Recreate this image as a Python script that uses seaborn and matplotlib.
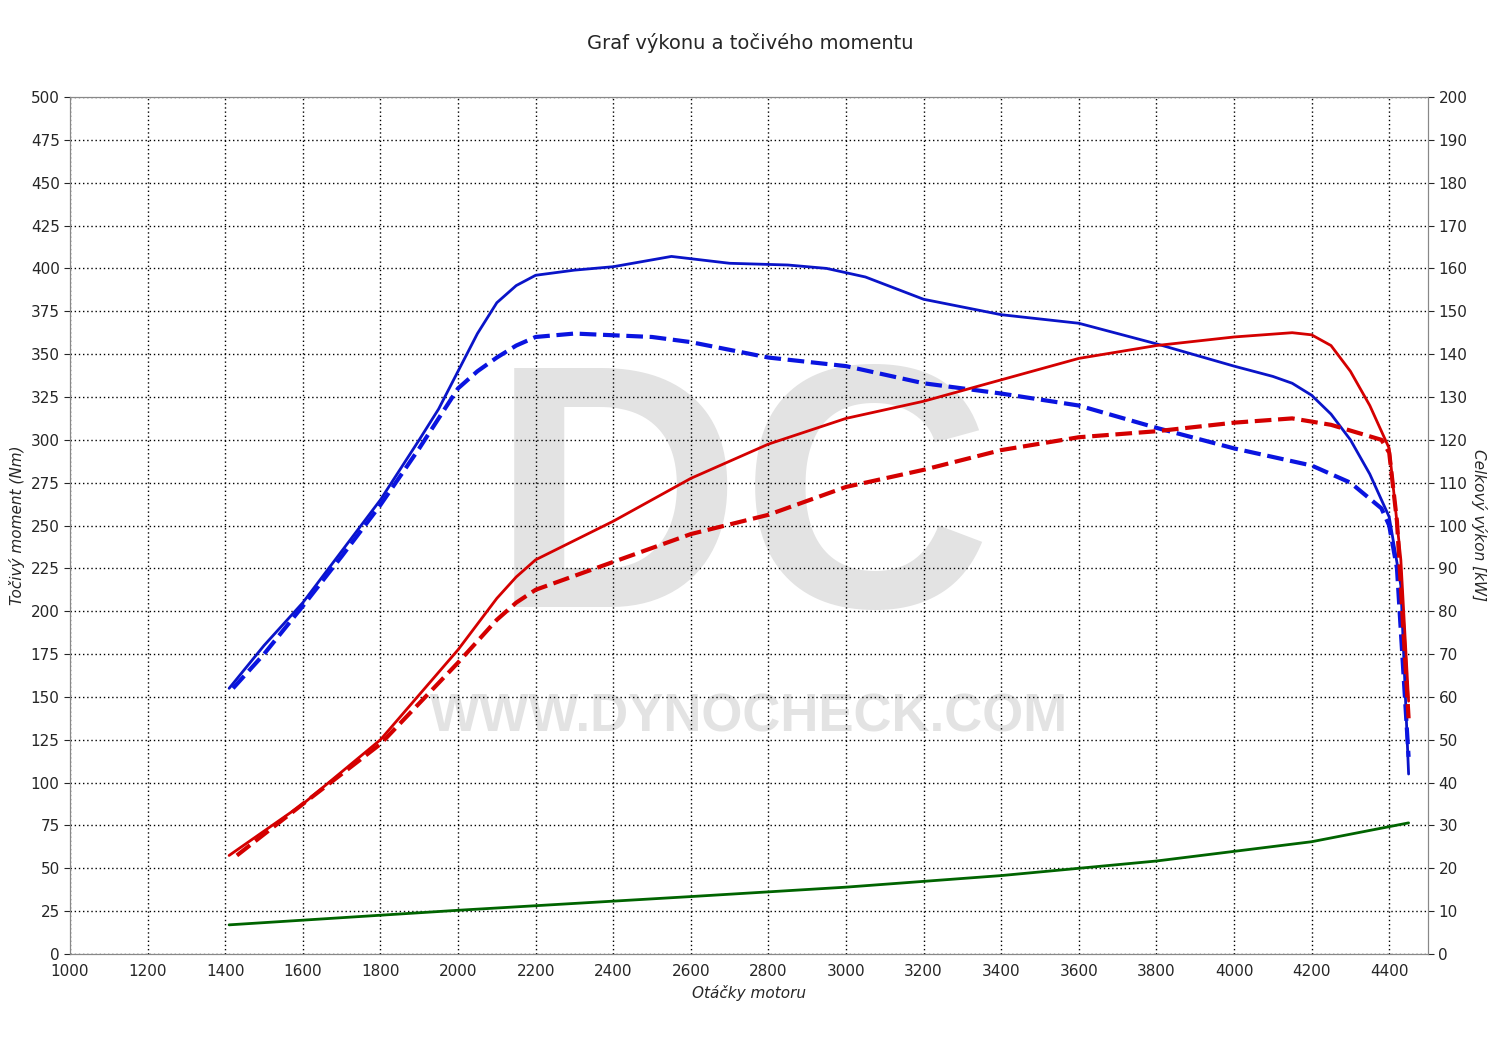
import pandas as pd
import matplotlib
matplotlib.use("Agg")
import matplotlib.pyplot as plt
import seaborn as sns

# torque, tuned (solid) and stock (dashed), Nm
tq_rpm = [1410, 1500, 1600, 1700, 1800, 1900, 1950, 2000, 2050, 2100, 2150, 2200, 2300, 2400, 2550,
          2700, 2850, 2950, 3050, 3200, 3400, 3600, 3800, 4000, 4100, 4150, 4200, 4250, 4300,
          4350, 4400, 4430, 4450]
tq_tuned = [155, 180, 205, 235, 265, 300, 318, 340, 362, 380, 390, 396, 399, 401, 407,
            403, 402, 400, 395, 382, 373, 368, 356, 343, 337, 333, 326, 315, 300,
            280, 255, 215, 105]
tqs_rpm = [1420, 1500, 1600, 1700, 1800, 1900, 2000, 2050, 2100, 2150, 2200, 2300, 2500, 2600,
           2800, 3000, 3200, 3400, 3600, 3800, 4000, 4200, 4300, 4380, 4400, 4420, 4450]
tq_stock = [155, 175, 203, 232, 262, 295, 330, 340, 348, 355, 360, 362, 360, 357,
            348, 343, 333, 327, 320, 307, 295, 285, 275, 260, 250, 225, 115]
# power, tuned and stock, kW
pw_rpm = [1410, 1600, 1800, 2000, 2050, 2100, 2150, 2200, 2400, 2600, 2800, 3000, 3200, 3400,
          3600, 3800, 4000, 4150, 4200, 4250, 4300, 4350, 4400, 4430, 4450]
pw_tuned = [23, 35, 50, 71, 77, 83, 88, 92, 101, 111, 119, 125, 129, 134,
            139, 142, 144, 145, 144.5, 142, 136, 128, 118, 92, 59]
pws_rpm = [1430, 1600, 1800, 2000, 2100, 2150, 2200, 2400, 2600, 2800, 3000, 3200, 3400, 3600,
           3800, 4000, 4150, 4250, 4380, 4400, 4420, 4450]
pw_stock = [23, 35, 49, 68, 78, 82, 85, 91.5, 98, 102.5, 109, 113, 117.6, 120.6,
            122, 124, 125, 123.5, 120, 117, 101, 55]
# losses, kW
loss_rpm = [1410, 2000, 2600, 3000, 3400, 3800, 4200, 4450]
loss_kw = [6.8, 10.2, 13.4, 15.6, 18.3, 21.7, 26.2, 30.6]

x_ticks = list(range(1000, 4401, 200))
y_ticks = list(range(0, 501, 25))
y2_ticks = list(range(0, 201, 10))

plt.rcParams["font.family"] = "Open Sans"
sns.set_style("white")
fig = plt.figure(figsize=(15, 10.4), dpi=100)
ax = fig.add_axes([0.0467, 0.0827, 0.9053, 0.824])
ax2 = ax.twinx()

# watermark
ax.text(2730, 255, "DC", fontsize=250, fontweight="bold", color="#e3e3e3",
        ha="center", va="center", zorder=0, fontfamily="Liberation Sans")
ax.text(2750, 138, "WWW.DYNOCHECK.COM", fontsize=38, fontweight="bold", color="#e3e3e3",
        ha="center", va="center", zorder=0, fontfamily="Liberation Sans")

sns.lineplot(x=tq_rpm, y=tq_tuned, ax=ax, color="#0a14c8", lw=2, sort=False)
sns.lineplot(x=tqs_rpm, y=tq_stock, ax=ax, color="#0a14e0", lw=3, ls=(0, (4, 1.6)), sort=False)
sns.lineplot(x=pw_rpm, y=pw_tuned, ax=ax2, color="#d40000", lw=2, sort=False)
sns.lineplot(x=pws_rpm, y=pw_stock, ax=ax2, color="#d40000", lw=3, ls=(0, (4, 1.6)), sort=False)
sns.lineplot(x=loss_rpm, y=loss_kw, ax=ax2, color="#006400", lw=2, sort=False)

ax.set_xlim(1000, 4500)
ax.set_ylim(0, 500)
ax2.set_ylim(0, 200)
ax.set_xticks(x_ticks)
ax.set_yticks(y_ticks)
ax2.set_yticks(y2_ticks)
ax.grid(True, color="black", ls=(0, (1, 2)), lw=1)
for a in (ax, ax2):
    a.tick_params(labelsize=11, length=4, direction="out")
    for s in a.spines.values():
        s.set_color("#888888")
ax.set_xlabel("Otáčky motoru", fontsize=11, style="italic")
ax.set_ylabel("Točivý moment (Nm)", fontsize=11, style="italic")
ax2.set_ylabel("Celkový výkon [kW]", fontsize=11, style="italic", rotation=-90, labelpad=14)
fig.suptitle("Graf výkonu a točivého momentu", y=0.968, fontsize=14)

fig.savefig("out.png", dpi=100)
